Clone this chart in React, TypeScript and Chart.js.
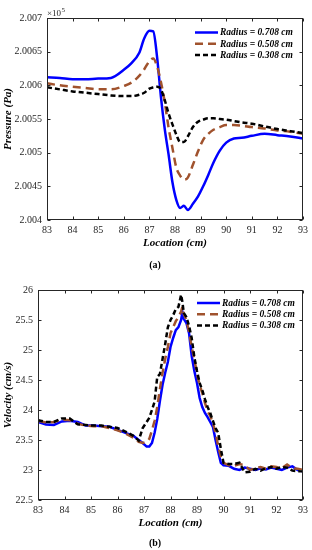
import React, { useEffect, useRef } from "react";
import { Chart, registerables } from "chart.js";

Chart.register(...registerables);

// ---------- data ----------
const seriesLabels = ["Radius = 0.708 cm", "Radius = 0.508 cm", "Radius = 0.308 cm"];
const seriesColors = ["#0000FF", "#A0522D", "#000000"];
const seriesDashes = [[], [8, 5], [5, 3]];

const locationTicks = [83, 84, 85, 86, 87, 88, 89, 90, 91, 92, 93];
const pressureTicks = [2.004, 2.0045, 2.005, 2.0055, 2.006, 2.0065, 2.007];
const velocityTicks = [22.5, 23, 23.5, 24, 24.5, 25, 25.5, 26];

const pressureAxisTitle = "Pressure (Pa)";
const velocityAxisTitle = "Velocity (cm/s)";
const locationAxisTitle = "Location (cm)";
const captionA = "(a)";
const captionB = "(b)";
const exponentBase = "\u00d710";
const exponentPower = "5";

// (a) pressure, in units of 10^5 Pa
const pressureLoc = [83, 83.5, 84, 84.5, 85, 85.5, 86, 86.3, 86.6, 86.8, 87.0, 87.15, 87.3, 87.45, 87.6, 87.75, 87.9, 88.05, 88.2, 88.35, 88.5, 88.7, 88.9, 89.1, 89.3, 89.5, 89.75, 90.0, 90.3, 90.6, 91.0, 91.5, 92.0, 92.5, 93.0];
const pressure0708 = [2.00612, 2.00611, 2.00609, 2.00609, 2.0061, 2.00611, 2.00623, 2.00633, 2.00648, 2.0067, 2.00681, 2.0068, 2.00642, 2.00583, 2.00535, 2.00497, 2.00456, 2.0043, 2.00418, 2.00421, 2.00415, 2.00424, 2.00435, 2.0045, 2.00467, 2.00485, 2.00503, 2.00515, 2.00521, 2.00522, 2.00525, 2.00528, 2.00526, 2.00524, 2.00521];
const pressure0508 = [2.00603, 2.006, 2.00598, 2.00596, 2.00594, 2.00594, 2.00599, 2.00604, 2.00614, 2.00624, 2.00636, 2.0064, 2.00628, 2.00605, 2.00575, 2.00537, 2.00507, 2.00478, 2.00466, 2.0046, 2.00463, 2.00482, 2.00502, 2.00519, 2.00528, 2.00534, 2.00538, 2.00541, 2.00541, 2.0054, 2.00538, 2.00536, 2.00533, 2.00531, 2.00528];
const pressure0308 = [2.00597, 2.00594, 2.00591, 2.00589, 2.00587, 2.00585, 2.00584, 2.00584, 2.00586, 2.00589, 2.00595, 2.00597, 2.00598, 2.00594, 2.00578, 2.00558, 2.00542, 2.00527, 2.00516, 2.00516, 2.00524, 2.00538, 2.00546, 2.00549, 2.00551, 2.00551, 2.0055, 2.00549, 2.00547, 2.00545, 2.00543, 2.00539, 2.00535, 2.00532, 2.00529];

// (b) velocity, cm/s
const velocityLoc = [83, 83.3, 83.6, 83.9, 84.2, 84.5, 84.8, 85.1, 85.4, 85.7, 86.0, 86.3, 86.6, 86.8, 86.95, 87.1, 87.2, 87.3, 87.4, 87.5, 87.6, 87.7, 87.8, 87.9, 88.0, 88.1, 88.2, 88.3, 88.4, 88.45, 88.5, 88.6, 88.7, 88.8, 88.9, 89.0, 89.1, 89.2, 89.3, 89.4, 89.5, 89.6, 89.7, 89.8, 89.9, 90.0, 90.2, 90.4, 90.6, 90.8, 91.0, 91.2, 91.4, 91.6, 91.8, 92.0, 92.2, 92.4, 92.6, 92.8, 93.0];
const velocity0708 = [23.8, 23.76, 23.75, 23.81, 23.82, 23.8, 23.74, 23.74, 23.73, 23.72, 23.67, 23.62, 23.57, 23.5, 23.45, 23.39, 23.39, 23.45, 23.62, 23.85, 24.15, 24.42, 24.62, 24.8, 25.05, 25.2, 25.33, 25.38, 25.5, 25.63, 25.52, 25.45, 25.28, 24.9, 24.65, 24.45, 24.2, 24.05, 23.95, 23.88, 23.8, 23.72, 23.5, 23.3, 23.12, 23.08, 23.07, 23.02, 23.0, 23.04, 23.02, 23.0, 23.03, 23.01, 23.04, 23.02, 23.0, 23.04, 23.06, 23.0, 22.98];
const velocity0508 = [23.82, 23.79, 23.8, 23.84, 23.83, 23.77, 23.74, 23.73, 23.73, 23.7, 23.66, 23.61, 23.54, 23.47, 23.45, 23.47, 23.52, 23.66, 23.82, 24.05, 24.35, 24.62, 24.85, 25.05, 25.28, 25.38, 25.48, 25.55, 25.64, 25.72, 25.6, 25.5, 25.3, 25.05, 24.85, 24.6, 24.42, 24.28, 24.12, 23.98, 23.9, 23.78, 23.62, 23.4, 23.22, 23.12, 23.08, 23.07, 23.1, 23.08, 23.0, 23.03, 23.05, 23.02, 23.06, 23.05, 23.03, 23.09, 23.03, 23.02, 23.0];
const velocity0308 = [23.83, 23.8, 23.8, 23.86, 23.86, 23.76, 23.75, 23.74, 23.74, 23.72, 23.7, 23.64, 23.57, 23.49, 23.7, 23.8, 23.87, 24.0, 24.14, 24.55, 24.6, 24.85, 25.1, 25.38, 25.5, 25.58, 25.68, 25.72, 25.92, 25.8, 25.62, 25.55, 25.4, 25.2, 24.88, 24.65, 24.45, 24.33, 24.18, 24.05, 23.95, 23.82, 23.7, 23.62, 23.35, 23.12, 23.1, 23.1, 23.12, 22.96, 22.97, 23.02, 22.99, 23.03, 23.05, 23.02, 23.05, 23.04, 22.99, 22.98, 22.98];

// ---------- styling ----------
const FAMILY = "'Liberation Serif', 'Times New Roman', serif";
const AXIS_COLOR = "#262626";

const decorPlugin = {
  id: "decor",
  afterDraw(chart: any, _args: any, opts: any) {
    const ctx = chart.ctx as CanvasRenderingContext2D;
    const { left, right, top, bottom } = chart.chartArea;
    const L = Math.round(left) + 0.5;
    const R = Math.round(right) - 0.5;
    const T = Math.round(top) + 0.5;
    const B = Math.round(bottom) - 0.5;
    ctx.save();
    ctx.strokeStyle = AXIS_COLOR;
    ctx.lineWidth = 1;
    ctx.setLineDash([]);
    ctx.strokeRect(L, T, R - L, B - T);
    const tl = 3;
    const xs = chart.scales.x;
    const ys = chart.scales.y;
    ctx.beginPath();
    xs.ticks.forEach((t: any) => {
      const px = Math.round(xs.getPixelForValue(t.value)) + 0.5;
      ctx.moveTo(px, B);
      ctx.lineTo(px, B - tl);
      ctx.moveTo(px, T);
      ctx.lineTo(px, T + tl);
    });
    ys.ticks.forEach((t: any) => {
      const py = Math.round(ys.getPixelForValue(t.value)) + 0.5;
      ctx.moveTo(L, py);
      ctx.lineTo(L + tl, py);
      ctx.moveTo(R, py);
      ctx.lineTo(R - tl, py);
    });
    ctx.stroke();

    // legend
    const lg = opts.legend;
    chart.data.datasets.forEach((ds: any, i: number) => {
      const y = lg.y + i * lg.dy;
      ctx.beginPath();
      ctx.setLineDash(ds.borderDash || []);
      ctx.strokeStyle = ds.borderColor;
      ctx.lineWidth = ds.borderWidth;
      ctx.moveTo(lg.x, y);
      ctx.lineTo(lg.x + lg.len, y);
      ctx.stroke();
      ctx.setLineDash([]);
      ctx.font = `italic bold ${lg.size}px ${FAMILY}`;
      ctx.fillStyle = "#000";
      ctx.textAlign = "left";
      ctx.textBaseline = "middle";
      ctx.fillText(ds.label, lg.x + lg.len + lg.gap, y + 0.5);
    });

    // exponent
    if (opts.exponent) {
      ctx.fillStyle = AXIS_COLOR;
      ctx.textAlign = "left";
      ctx.textBaseline = "alphabetic";
      ctx.font = `9px ${FAMILY}`;
      const x0 = left;
      const y0 = top - 2;
      ctx.fillText(opts.exponent.base, x0, y0);
      const w = ctx.measureText(opts.exponent.base).width;
      ctx.font = `7px ${FAMILY}`;
      ctx.fillText(opts.exponent.power, x0 + w + 0.5, y0 - 4);
    }

    // caption
    ctx.fillStyle = "#000";
    ctx.font = `bold 10px ${FAMILY}`;
    ctx.textAlign = "center";
    ctx.textBaseline = "middle";
    ctx.fillText(opts.caption.text, opts.caption.x, opts.caption.y);
    ctx.restore();
  },
};

type PanelSpec = {
  loc: number[];
  series: number[][];
  yTicks: number[];
  yTitle: string;
  yWidth: number;
  padding: { left: number; right: number; top: number; bottom: number };
  monotone: boolean;
  legend: any;
  exponent: any;
  caption: any;
  yFormat: (v: number) => string;
};

function buildConfig(p: PanelSpec): any {
  const n = p.series.length;
  const datasets = p.series.map((vals, i) => ({
    label: seriesLabels[i],
    data: p.loc.map((x, j) => ({ x, y: vals[j] })),
    borderColor: seriesColors[i],
    borderDash: seriesDashes[i],
    borderWidth: 2.5,
    pointRadius: 0,
    fill: false,
    tension: 0,
    cubicInterpolationMode: p.monotone ? "monotone" : "default",
    order: n - 1 - i, // later series drawn on top, like the original
  }));
  return {
    type: "line",
    data: { datasets },
    plugins: [decorPlugin],
    options: {
      responsive: false,
      animation: false,
      devicePixelRatio: 1,
      layout: { padding: p.padding },
      plugins: {
        legend: { display: false },
        tooltip: { enabled: false },
        decor: { legend: p.legend, exponent: p.exponent, caption: p.caption },
      },
      scales: {
        x: {
          type: "linear",
          min: locationTicks[0],
          max: locationTicks[locationTicks.length - 1],
          grid: { display: false, drawTicks: false },
          border: { display: false },
          afterBuildTicks: (s: any) => {
            s.ticks = locationTicks.map((v) => ({ value: v }));
          },
          afterFit: (s: any) => {
            s.height = 30;
          },
          ticks: {
            autoSkip: false,
            maxRotation: 0,
            padding: 4,
            color: AXIS_COLOR,
            font: { family: FAMILY, size: 10 },
            callback: (v: any) => String(v),
          },
          title: {
            display: true,
            text: locationAxisTitle,
            color: "#000",
            padding: { top: 0, bottom: 0 },
            font: { family: FAMILY, size: 11, style: "italic", weight: "bold" },
          },
        },
        y: {
          type: "linear",
          min: p.yTicks[0],
          max: p.yTicks[p.yTicks.length - 1],
          grid: { display: false, drawTicks: false },
          border: { display: false },
          afterBuildTicks: (s: any) => {
            s.ticks = p.yTicks.map((v) => ({ value: v }));
          },
          afterFit: (s: any) => {
            s.width = p.yWidth;
          },
          ticks: {
            autoSkip: false,
            padding: 5,
            color: AXIS_COLOR,
            font: { family: FAMILY, size: 10 },
            callback: (v: any) => p.yFormat(Number(v)),
          },
          title: {
            display: true,
            text: p.yTitle,
            color: "#000",
            padding: { top: 2, bottom: 0 },
            font: { family: FAMILY, size: 11, style: "italic", weight: "bold" },
          },
        },
      },
    },
  };
}

function Panel({ spec, top }: { spec: PanelSpec; top: number }) {
  const ref = useRef<HTMLCanvasElement | null>(null);
  useEffect(() => {
    if (!ref.current) return;
    const chart = new Chart(ref.current, buildConfig(spec));
    return () => chart.destroy();
  }, []);
  return (
    <canvas
      ref={ref}
      width={312}
      height={275}
      style={{ position: "absolute", left: 0, top, width: 312, height: 275 }}
    />
  );
}

const panelA: PanelSpec = {
  loc: pressureLoc,
  series: [pressure0708, pressure0508, pressure0308],
  yTicks: pressureTicks,
  yTitle: pressureAxisTitle,
  yWidth: 47,
  padding: { left: 0, right: 9, top: 18, bottom: 25 },
  monotone: true,
  legend: { x: 195, y: 32.5, dy: 11.3, len: 23, gap: 2, size: 9.5 },
  exponent: { base: exponentBase, power: exponentPower },
  caption: { text: captionA, x: 155, y: 265 },
  yFormat: (v) => String(Number(v.toFixed(4))),
};

const panelB: PanelSpec = {
  loc: velocityLoc,
  series: [velocity0708, velocity0508, velocity0308],
  yTicks: velocityTicks,
  yTitle: velocityAxisTitle,
  yWidth: 38,
  padding: { left: 0, right: 8, top: 15, bottom: 20 },
  monotone: false,
  legend: { x: 197, y: 28, dy: 11.2, len: 23, gap: 2, size: 9.5 },
  exponent: null,
  caption: { text: captionB, x: 155, y: 268.5 },
  yFormat: (v) => String(Number(v.toFixed(2))),
};

export default function App() {
  return (
    <div
      style={{
        position: "absolute",
        left: 0,
        top: 0,
        width: 312,
        height: 550,
        background: "#fff",
      }}
    >
      <Panel spec={panelA} top={0} />
      <Panel spec={panelB} top={275} />
    </div>
  );
}
